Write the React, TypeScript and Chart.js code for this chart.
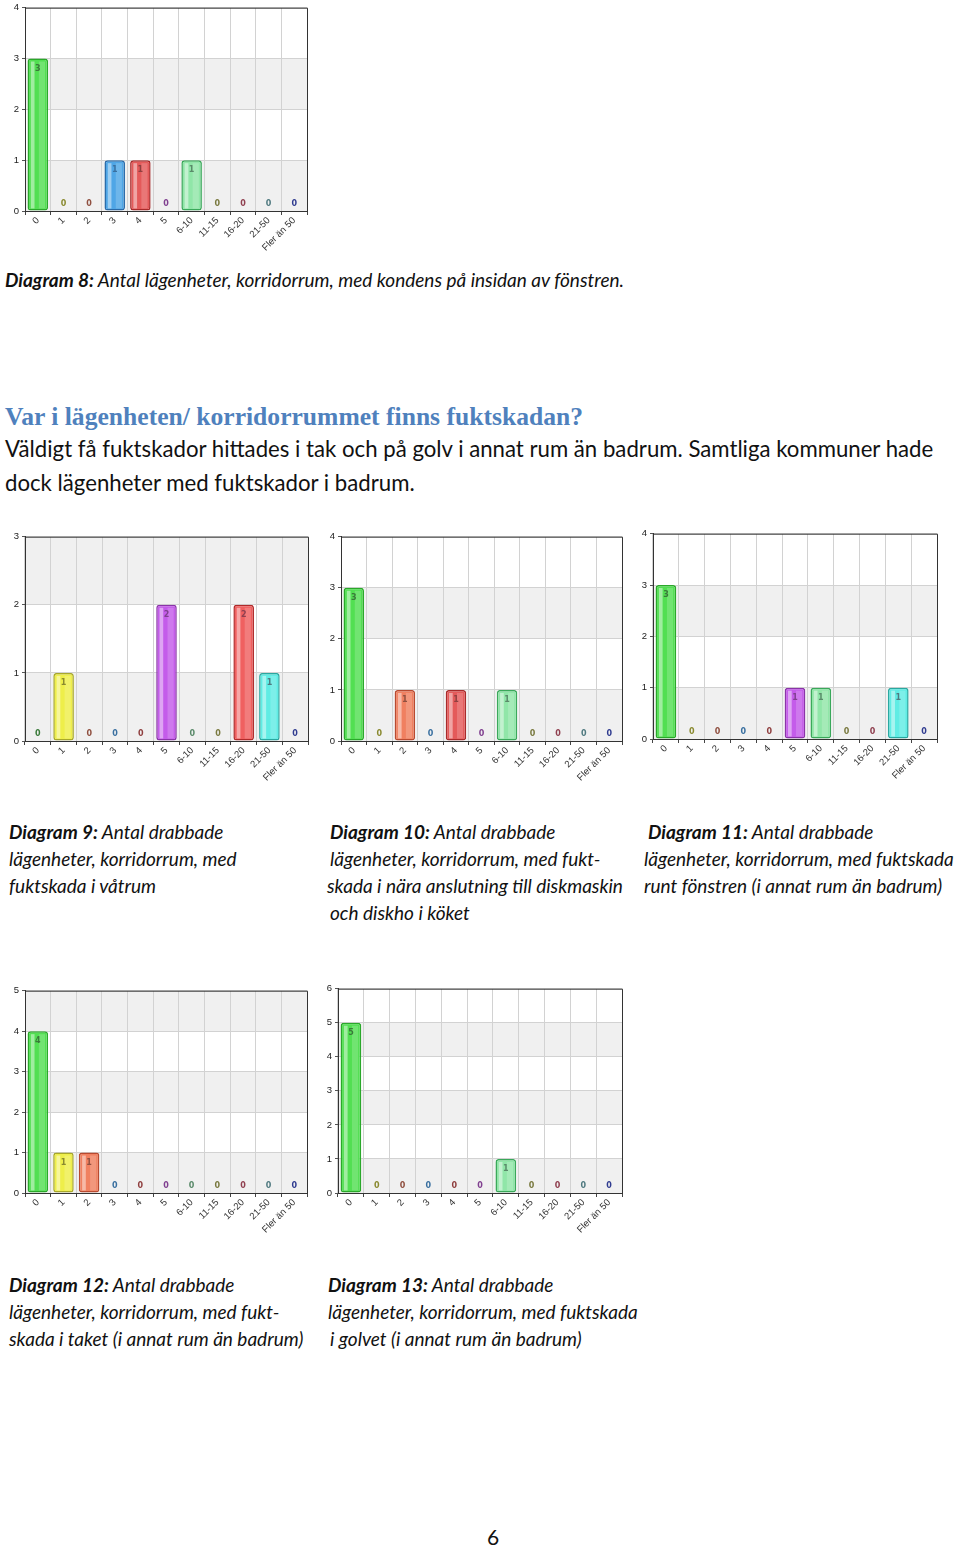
import React, { useEffect, useRef } from "react";
import { Chart, registerables } from "chart.js";
Chart.register(...registerables);

const categories = ["0", "1", "2", "3", "4", "5", "6-10", "11-15", "16-20", "21-50", "Fler än 50"];
const diagram8 = [3, 0, 0, 1, 1, 0, 1, 0, 0, 0, 0];
const diagram9 = [0, 1, 0, 0, 0, 2, 0, 0, 2, 1, 0];
const diagram10 = [3, 0, 1, 0, 1, 0, 1, 0, 0, 0, 0];
const diagram11 = [3, 0, 0, 0, 0, 1, 1, 0, 0, 1, 0];
const diagram12 = [4, 1, 1, 0, 0, 0, 0, 0, 0, 0, 0];
const diagram13 = [5, 0, 0, 0, 0, 0, 1, 0, 0, 0, 0];

const barColors = ["#52df52", "#eeee4a", "#f08060", "#4fa6e6", "#e45a5a", "#c45cea", "#90e6a8", "#d8d080", "#f06060", "#60ece4", "#5070c0"];
const barBorders = ["#2aa82a", "#a8a82a", "#b84a30", "#2a6aa8", "#a82a2a", "#8a34a8", "#3aa85a", "#a0983a", "#b02a2a", "#2aa8a0", "#2a4490"];
const labelColors = ["#3a7a3a", "#8a8a30", "#905040", "#3a70a0", "#904040", "#804090", "#5a8a6a", "#7a7a40", "#904050", "#507a80", "#303c90"];

type Box = { L: number; R: number; T: number; B: number };

const YW = 22;
const PAD_TOP = 7;
const XH = 50;
const PAD_RIGHT = 6;

const bandsPlugin = {
  id: "bands",
  beforeDraw(chart: any) {
    const { ctx, chartArea: a, scales } = chart;
    const y = scales.y;
    ctx.save();
    ctx.fillStyle = "#ffffff";
    ctx.fillRect(a.left, a.top, a.right - a.left, a.bottom - a.top);
    ctx.fillStyle = "#f0f0f0";
    for (let i = 0; i < y.max; i += 2) {
      const y0 = y.getPixelForValue(i);
      const y1 = y.getPixelForValue(i + 1);
      ctx.fillRect(a.left, y1, a.right - a.left, y0 - y1);
    }
    ctx.restore();
  },
  afterDatasetsDraw(chart: any) {
    const { ctx } = chart;
    const meta = chart.getDatasetMeta(0);
    const values = chart.data.datasets[0].data as number[];
    ctx.save();
    meta.data.forEach((bar: any, i: number) => {
      const { x, y, base, width } = bar.getProps(["x", "y", "base", "width"], true);
      const v = values[i];
      ctx.font = "bold 8px 'DejaVu Sans'";
      ctx.textAlign = "center";
      ctx.textBaseline = "middle";
      if (v > 0) {
        const left = x - width / 2;
        ctx.fillStyle = "rgba(255,255,255,0.45)";
        ctx.fillRect(left + width * 0.16, y + 3, width * 0.18, base - y - 5);
        ctx.fillStyle = "rgba(255,255,255,0.18)";
        ctx.fillRect(left + width * 0.55, y + 3, width * 0.3, base - y - 5);
        ctx.fillStyle = labelColors[i];
        ctx.fillText(String(v), x, y + 10);
      } else {
        ctx.fillStyle = labelColors[i];
        ctx.fillText("0", x, base - 7);
      }
    });
    ctx.restore();
  },
  afterDraw(chart: any) {
    const { ctx, chartArea: a } = chart;
    ctx.save();
    ctx.strokeStyle = "#333333";
    ctx.lineWidth = 1;
    ctx.beginPath();
    ctx.moveTo(a.left, a.top + 0.5);
    ctx.lineTo(a.right + 0.5, a.top + 0.5);
    ctx.lineTo(a.right + 0.5, a.bottom);
    ctx.stroke();
    ctx.restore();
  },
};

function BarChart({ values, max, box }: { values: number[]; max: number; box: Box }) {
  const ref = useRef<HTMLCanvasElement | null>(null);
  const width = YW + (box.R - box.L) + PAD_RIGHT;
  const height = PAD_TOP + (box.B - box.T) + XH;
  useEffect(() => {
    if (!ref.current) return;
    const chart = new Chart(ref.current, {
      type: "bar",
      data: {
        labels: categories,
        datasets: [
          {
            data: values,
            backgroundColor: barColors,
            borderColor: barBorders,
            borderWidth: 1.5,
            borderRadius: 3,
            borderSkipped: false,
            barPercentage: 0.8,
            categoryPercentage: 1,
          },
        ],
      },
      options: {
        animation: false,
        responsive: false,
        devicePixelRatio: 1,
        layout: { padding: { top: PAD_TOP, right: PAD_RIGHT, left: 0, bottom: 0 } },
        plugins: { legend: { display: false }, tooltip: { enabled: false } },
        scales: {
          x: {
            offset: true,
            grid: { color: "#d2d2d2", offset: true, tickLength: 4, tickColor: "#444" },
            border: { color: "#333", width: 1 },
            ticks: {
              maxRotation: 45,
              minRotation: 45,
              autoSkip: false,
              padding: 0,
              color: "#333",
              font: { family: "'Liberation Sans'", size: 9.5 },
            },
            afterFit: (s: any) => {
              s.height = XH;
            },
          },
          y: {
            min: 0,
            max,
            ticks: { stepSize: 1, color: "#222", padding: 3, font: { family: "'Liberation Sans'", size: 9.5 } },
            grid: { color: "#d2d2d2", tickLength: 3, tickColor: "#555" },
            border: { color: "#333", width: 1 },
            afterFit: (s: any) => {
              s.width = YW;
            },
          },
        },
      },
      plugins: [bandsPlugin],
    });
    return () => chart.destroy();
  }, []);
  return (
    <canvas
      ref={ref}
      width={width}
      height={height}
      style={{ position: "absolute", left: box.L - YW, top: box.T - PAD_TOP, width, height }}
    />
  );
}

const capFont = "Lato, 'Open Sans', sans-serif";

function Line({ x, y, children, size = 19 }: { x: number; y: number; children: React.ReactNode; size?: number }) {
  return (
    <div
      style={{
        position: "absolute",
        left: x,
        top: y - 13,
        height: 26,
        lineHeight: "26px",
        fontFamily: capFont,
        fontStyle: "italic",
        fontSize: size,
        color: "#111",
        whiteSpace: "nowrap",
      }}
    >
      {children}
    </div>
  );
}

export default function App() {
  return (
    <div style={{ position: "absolute", left: 0, top: 0, width: 960, height: 1547, background: "#fff", overflow: "hidden" }}>
      <BarChart values={diagram8} max={4} box={{ L: 25, R: 307, T: 6, B: 211 }} />
      <Line x={5} y={280}>
        <b>Diagram 8:</b> Antal lägenheter, korridorrum, med kondens på insidan av fönstren.
      </Line>

      <div
        style={{
          position: "absolute",
          left: 5,
          top: 401,
          lineHeight: "32px",
          fontFamily: "'Liberation Serif', serif",
          fontWeight: "bold",
          fontSize: 25.6,
          color: "#4f81bd",
          whiteSpace: "nowrap",
        }}
      >
        Var i lägenheten/ korridorrummet finns fuktskadan?
      </div>
      <div style={{ position: "absolute", left: 5, top: 432, lineHeight: "34px", fontFamily: capFont, fontSize: 22.2, color: "#111", whiteSpace: "nowrap" }}>
        Väldigt få fuktskador hittades i tak och på golv i annat rum än badrum. Samtliga kommuner hade
        <br />
        dock lägenheter med fuktskador i badrum.
      </div>

      <BarChart values={diagram9} max={3} box={{ L: 25, R: 308, T: 535, B: 741 }} />
      <BarChart values={diagram10} max={4} box={{ L: 341, R: 622, T: 535, B: 741 }} />
      <BarChart values={diagram11} max={4} box={{ L: 653, R: 937, T: 532, B: 739 }} />

      <Line x={9} y={832}><b>Diagram 9:</b> Antal drabbade</Line>
      <Line x={9} y={859}>lägenheter, korridorrum, med</Line>
      <Line x={9} y={886}>fuktskada i våtrum</Line>

      <Line x={330} y={832}><b>Diagram 10:</b> Antal drabbade</Line>
      <Line x={330} y={859}>lägenheter, korridorrum, med fukt-</Line>
      <Line x={327} y={886}>skada i nära anslutning till diskmaskin</Line>
      <Line x={330} y={913}>och diskho i köket</Line>

      <Line x={648} y={832}><b>Diagram 11:</b> Antal drabbade</Line>
      <Line x={644} y={859}>lägenheter, korridorrum, med fuktskada</Line>
      <Line x={644} y={886}>runt fönstren (i annat rum än badrum)</Line>

      <BarChart values={diagram12} max={5} box={{ L: 25, R: 307, T: 989, B: 1193 }} />
      <BarChart values={diagram13} max={6} box={{ L: 338, R: 622, T: 987, B: 1193 }} />

      <Line x={9} y={1285}><b>Diagram 12:</b> Antal drabbade</Line>
      <Line x={9} y={1312}>lägenheter, korridorrum, med fukt-</Line>
      <Line x={9} y={1339}>skada i taket (i annat rum än badrum)</Line>

      <Line x={328} y={1285}><b>Diagram 13:</b> Antal drabbade</Line>
      <Line x={328} y={1312}>lägenheter, korridorrum, med fuktskada</Line>
      <Line x={330} y={1339}>i golvet (i annat rum än badrum)</Line>

      <div style={{ position: "absolute", left: 487, top: 1524, lineHeight: "26px", fontFamily: capFont, fontSize: 21, color: "#111" }}>6</div>
    </div>
  );
}
